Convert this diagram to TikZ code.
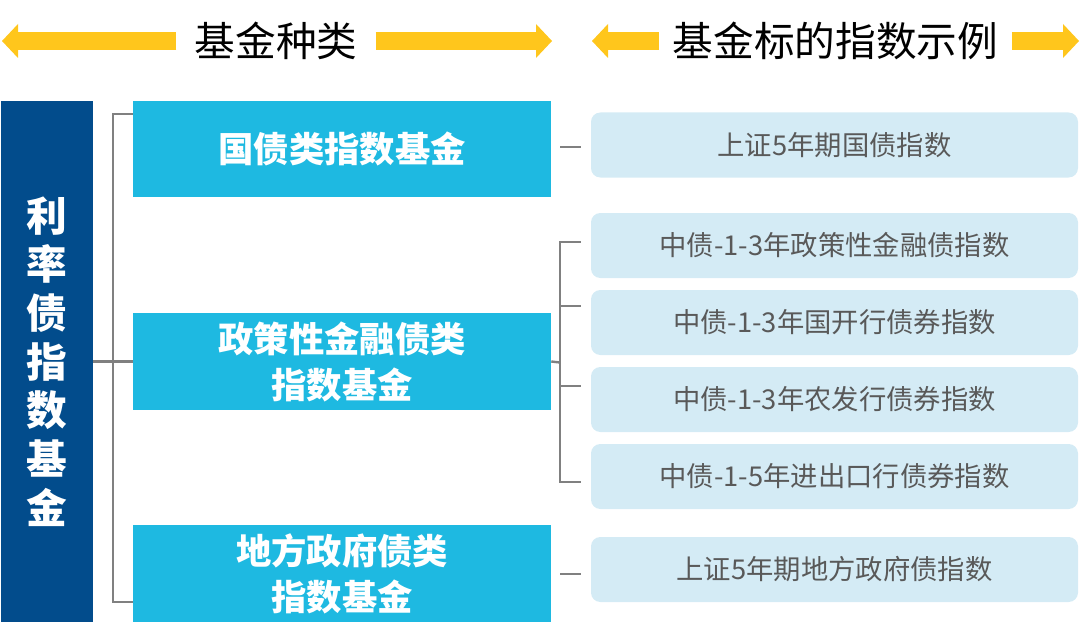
\documentclass[tikz,border=0pt]{standalone}
\usepackage{fontspec}
\setmainfont{Noto Sans CJK SC}
\usetikzlibrary{arrows.meta}
\definecolor{navy}{HTML}{024C8C}
\definecolor{cyanblue}{HTML}{1EB9E1}
\definecolor{paleblue}{HTML}{D4EBF5}
\definecolor{textgray}{HTML}{595959}
\definecolor{linegray}{HTML}{808080}
\definecolor{gold}{HTML}{FFC61C}

\begin{document}
\begin{tikzpicture}[x=0.75pt, y=-0.75pt,
	every node/.style={inner sep=0pt, align=center},
	rootbox/.style={fill=navy, text=white, font=\fontsize{30.5pt}{36.5pt}\selectfont\bfseries,
		minimum width=69pt, minimum height=390.75pt},
	fundbox/.style={fill=cyanblue, text=white, font=\fontsize{26.5pt}{34.5pt}\selectfont\bfseries,
		minimum width=313.5pt},
	indexbox/.style={fill=paleblue, text=textgray, rounded corners=7pt,
		font=\fontsize{20.5pt}{24pt}\selectfont, minimum width=365.25pt, minimum height=48.75pt},
	head/.style={font=\fontsize{30.5pt}{36pt}\selectfont},
	yarrow/.style={draw=gold, line width=13.5pt, -{Triangle[length=12pt, width=25.5pt, line width=0pt 0 0]}},
	link/.style={draw=linegray, line width=1.8pt}]
	
	\useasboundingbox (0,0) rectangle (1080,638);
	
	% column headings
	\node[head, inner xsep=13.5pt] (kinds) at (276,41) {基金种类};
	\node[head, inner xsep=10pt] (examples) at (835.5,41) {基金标的指数示例};
	\coordinate (kl) at (2,41);
	\coordinate (kr) at (552,41);
	\coordinate (el) at (592,41);
	\coordinate (er) at (1079,41);
	\draw[yarrow] (kinds.west) -- (kl);
	\draw[yarrow] (kinds.east) -- (kr);
	\draw[yarrow] (examples.west) -- (el);
	\draw[yarrow] (examples.east) -- (er);
	
	% root
	\node[rootbox] (root) at (47,361.5) {利\\率\\债\\指\\数\\基\\金};
	
	% fund kinds
	\node[fundbox, minimum height=72pt] (govfund) at (342,149) {国债类指数基金};
	\node[fundbox, minimum height=72.75pt] (policyfund) at (342,361.5) {政策性金融债类\\指数基金};
	\node[fundbox, minimum height=72.75pt] (localfund) at (342,573.5) {地方政府债类\\指数基金};
	
	% index examples
	\node[indexbox] (idx1) at (834.5,145) {上证5年期国债指数};
	\node[indexbox] (idx2) at (834.5,245.5) {中债-1-3年政策性金融债指数};
	\node[indexbox] (idx3) at (834.5,322.5) {中债-1-3年国开行债券指数};
	\node[indexbox] (idx4) at (834.5,399.5) {中债-1-3年农发行债券指数};
	\node[indexbox] (idx5) at (834.5,476.5) {中债-1-5年进出口行债券指数};
	\node[indexbox] (idx6) at (834.5,569.5) {上证5年期地方政府债指数};
	
	% left bracket
	\coordinate (lb) at (113,361.5);
	\draw[link] (root.east) -- (lb);
	\draw[link] ([yshift=-9.75pt]govfund.north west) -| (lb) |- ([yshift=15pt]localfund.south west);
	\draw[link] (lb) -- (policyfund.west);
	
	% right bracket
	\coordinate (rb) at (560,362.5);
	\draw[link] (policyfund.east) -- (rb);
	\draw[link] ([xshift=-7.5pt,yshift=2.6pt]idx2.west) -| (rb) |- ([xshift=-7.5pt,yshift=-4.1pt]idx5.west);
	\foreach \n/\s in {idx3/12.4pt, idx4/10.1pt}
		\draw[link] ([xshift=-7.5pt,yshift=\s]\n.west) -- ++(-15.75pt,0);
	
	% single ticks
	\draw[link] ([xshift=-7.5pt,yshift=-1.5pt]idx1.west) -- ++(-15.75pt,0);
	\draw[link] ([xshift=-7.5pt,yshift=-3.4pt]idx6.west) -- ++(-15.75pt,0);
	
\end{tikzpicture}
\end{document}
